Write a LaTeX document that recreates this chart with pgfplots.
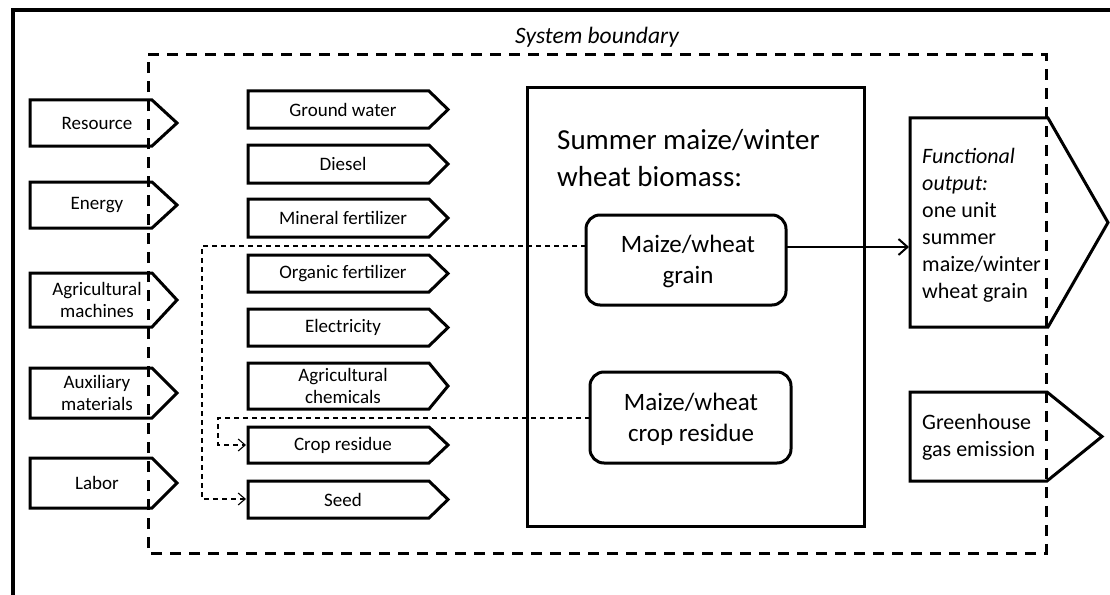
\documentclass[border=0pt]{standalone}
\usepackage{fontspec}
\setmainfont{Carlito}
\usepackage{pgfplots}
\pgfplotsset{compat=1.18}
\usetikzlibrary{arrows.meta}
\begin{document}
\begin{tikzpicture}
\begin{axis}[width=1110bp,height=595bp,scale only axis,
  xmin=0,xmax=1110,ymin=0,ymax=595,y dir=reverse,hide axis,clip=false,
  sh/.style={black,solid,line width=3bp,mark=none,line join=miter}]
% outer frame
\addplot[sh,line width=3.2bp] coordinates {(1115,10) (13,10) (13,600)};
% left pentagons
\addplot[sh] coordinates {(30,123) (30,100) (152,100) (177,123) (152,146) (30,146) (30,123)};
\addplot[sh] coordinates {(30,205) (30,182) (152,182) (177,205) (152,228) (30,228) (30,205)};
\addplot[sh] coordinates {(30,300) (30,273) (152,273) (177,300) (152,327) (30,327) (30,300)};
\addplot[sh] coordinates {(30,393) (30,368) (152,368) (177,393) (152,418) (30,418) (30,393)};
\addplot[sh] coordinates {(30,483) (30,458) (152,458) (177,483) (152,508) (30,508) (30,483)};
% middle pentagons
\addplot[sh] coordinates {(248,109.5) (248,91) (429,91) (448,109.5) (429,128) (248,128) (248,109.5)};
\addplot[sh] coordinates {(248,164) (248,145) (429,145) (448,164) (429,183) (248,183) (248,164)};
\addplot[sh] coordinates {(248,218) (248,199) (429,199) (448,218) (429,237) (248,237) (248,218)};
\addplot[sh] coordinates {(248,273.5) (248,255) (429,255) (448,273.5) (429,292) (248,292) (248,273.5)};
\addplot[sh] coordinates {(248,327.5) (248,309) (429,309) (448,327.5) (429,346) (248,346) (248,327.5)};
\addplot[sh] coordinates {(248,386) (248,363) (429,363) (448,386) (429,409) (248,409) (248,386)};
\addplot[sh] coordinates {(248,445) (248,427) (429,427) (448,445) (429,463) (248,463) (248,445)};
\addplot[sh] coordinates {(248,499.5) (248,481) (429,481) (448,499.5) (429,518) (248,518) (248,499.5)};
% big box
\addplot[sh] coordinates {(527,300) (527,88) (864,88) (864,526) (527,526) (527,300)};
% rounded boxes
\addplot[sh,rounded corners=14bp] coordinates {(686,215) (786,215) (786,305) (586,305) (586,215) (686,215)};
\addplot[sh,rounded corners=14bp] coordinates {(690,372) (791,372) (791,463) (590,463) (590,372) (690,372)};
% right pentagons
\addplot[sh] coordinates {(910,222.5) (910,118) (1048,118) (1108,222.5) (1048,327) (910,327) (910,222.5)};
\addplot[sh] coordinates {(910,436.5) (910,392) (1047,392) (1102,436.5) (1047,481) (910,481) (910,436.5)};
% system boundary
\addplot[sh,line width=3bp,dash pattern=on 11bp off 8bp] coordinates {(148,55) (1046,55) (1046,553) (148,553) (148,55)};
% grain -> output arrow
\addplot[sh,line width=2bp,-{Straight Barb[length=9bp,width=16bp,line width=2bp]}] coordinates {(786,247) (909,247)};
% feedback dashed arrows
\addplot[sh,line width=1.1bp,dash pattern=on 5bp off 4bp,-{Straight Barb[length=7bp,width=12bp,line width=1.1bp]}] coordinates {(586,246) (202,246) (202,499) (246,499)};
\addplot[sh,line width=1.1bp,dash pattern=on 5bp off 4bp,-{Straight Barb[length=7bp,width=12bp,line width=1.1bp]}] coordinates {(590,418) (218,418) (218,445) (246,445)};
% texts
\tikzset{sm/.style={font=\fontsize{19bp}{22bp}\selectfont,align=center,inner sep=0pt}}
\node[font=\itshape\fontsize{23.5bp}{25bp}\selectfont] at (axis cs:597,37) {System boundary};
\node[sm] at (axis cs:97,123) {Resource};
\node[sm] at (axis cs:97,205) {Energy};
\node[sm] at (axis cs:97,300) {Agricultural\\machines};
\node[sm] at (axis cs:97,393) {Auxiliary\\materials};
\node[sm] at (axis cs:97,483) {Labor};
\node[sm] at (axis cs:343,109.5) {Ground water};
\node[sm] at (axis cs:343,164) {Diesel};
\node[sm] at (axis cs:343,218) {Mineral fertilizer};
\node[sm] at (axis cs:343,273.5) {Organic fertilizer};
\node[sm] at (axis cs:343,327.5) {Electricity};
\node[sm] at (axis cs:343,386) {Agricultural\\chemicals};
\node[sm] at (axis cs:343,445) {Crop residue};
\node[sm] at (axis cs:343,499.5) {Seed};
\node[font=\fontsize{29bp}{37bp}\selectfont,align=left,anchor=west,inner sep=0pt] at (axis cs:557,158) {Summer maize/winter\\wheat biomass:};
\node[font=\fontsize{25bp}{31bp}\selectfont,align=center,inner sep=0pt] at (axis cs:688,261) {Maize/wheat\\grain};
\node[font=\fontsize{25bp}{31bp}\selectfont,align=center,inner sep=0pt] at (axis cs:691,419) {Maize/wheat\\crop residue};
\node[font=\fontsize{22bp}{27bp}\selectfont,align=left,anchor=west,inner sep=0pt] at (axis cs:922,225) {\textit{Functional}\\\textit{output:}\\one unit\\summer\\maize/winter\\wheat grain};
\node[font=\fontsize{22bp}{27bp}\selectfont,align=left,anchor=west,inner sep=0pt] at (axis cs:922,437) {Greenhouse\\gas emission};
\end{axis}
\pgfresetboundingbox
\path (current axis.south west) rectangle (current axis.north east);
\end{tikzpicture}
\end{document}
